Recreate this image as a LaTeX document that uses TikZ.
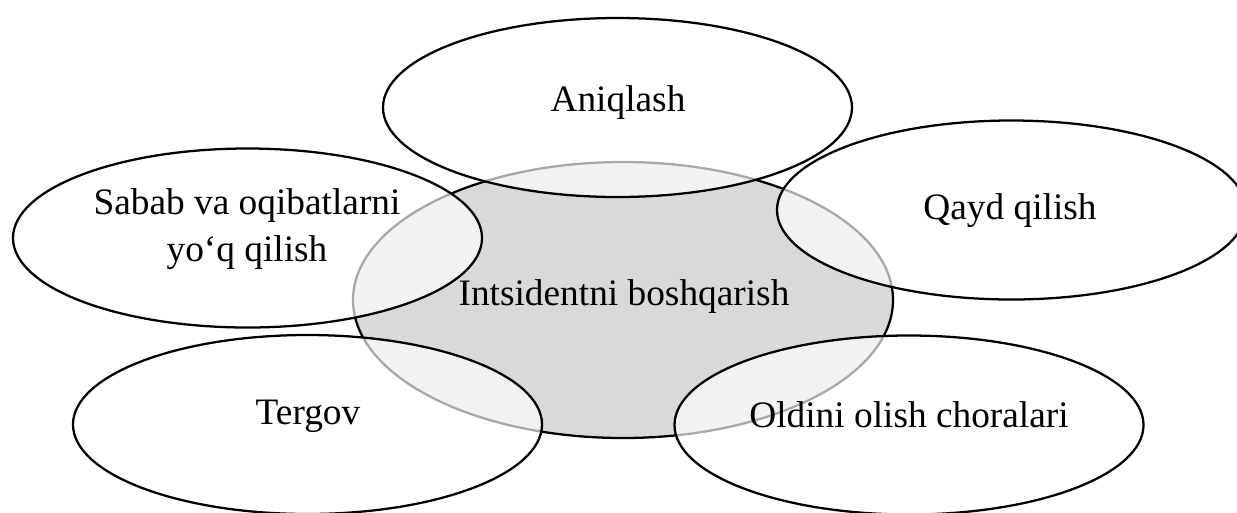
\documentclass[tikz,border=0pt]{standalone}
\usepackage{fontspec}
\setmainfont{Liberation Serif}
\usetikzlibrary{shapes.geometric}
\begin{document}
\begin{tikzpicture}[x=0.75pt,y=-0.75pt,
  hub/.style={ellipse, draw=black, line width=1.7pt, fill={rgb,255:red,217;green,217;blue,217},
    minimum width=540*0.75pt, minimum height=276*0.75pt, inner sep=0pt},
  petal/.style={ellipse, draw=black, line width=1.7pt, fill=white, fill opacity=0.66,
    minimum width=469*0.75pt, minimum height=179*0.75pt, inner sep=0pt},
  lbl/.style={font=\fontsize{28}{35.5}\selectfont, align=center, inner sep=0pt}]
\useasboundingbox (0,0) rectangle (1237,512);
% central ellipse
\node[hub] (hub) at (623,300) {};
% surrounding ellipses
\node[petal] (aniq) at (617.5,107.5) {};
\node[petal] (sabab) at (247.5,238) {};
\node[petal] (qayd) at (1011.5,210) {};
\node[petal] (terg) at (307.5,424.5) {};
\node[petal] (oldini) at (909,425) {};
% labels
\node[lbl] (tHub) at (624,297) {Intsidentni boshqarish};
\node[lbl] (tAniq) at (618,103) {Aniqlash};
\node[lbl] (tSabab) at (247,229) {Sabab va oqibatlarni\\yo‘q qilish};
\node[lbl] (tQayd) at (1010,211) {Qayd qilish};
\node[lbl] (tTerg) at (308,416) {Tergov};
\node[lbl] (tOldini) at (909,415) {Oldini olish choralari};
\end{tikzpicture}
\end{document}
